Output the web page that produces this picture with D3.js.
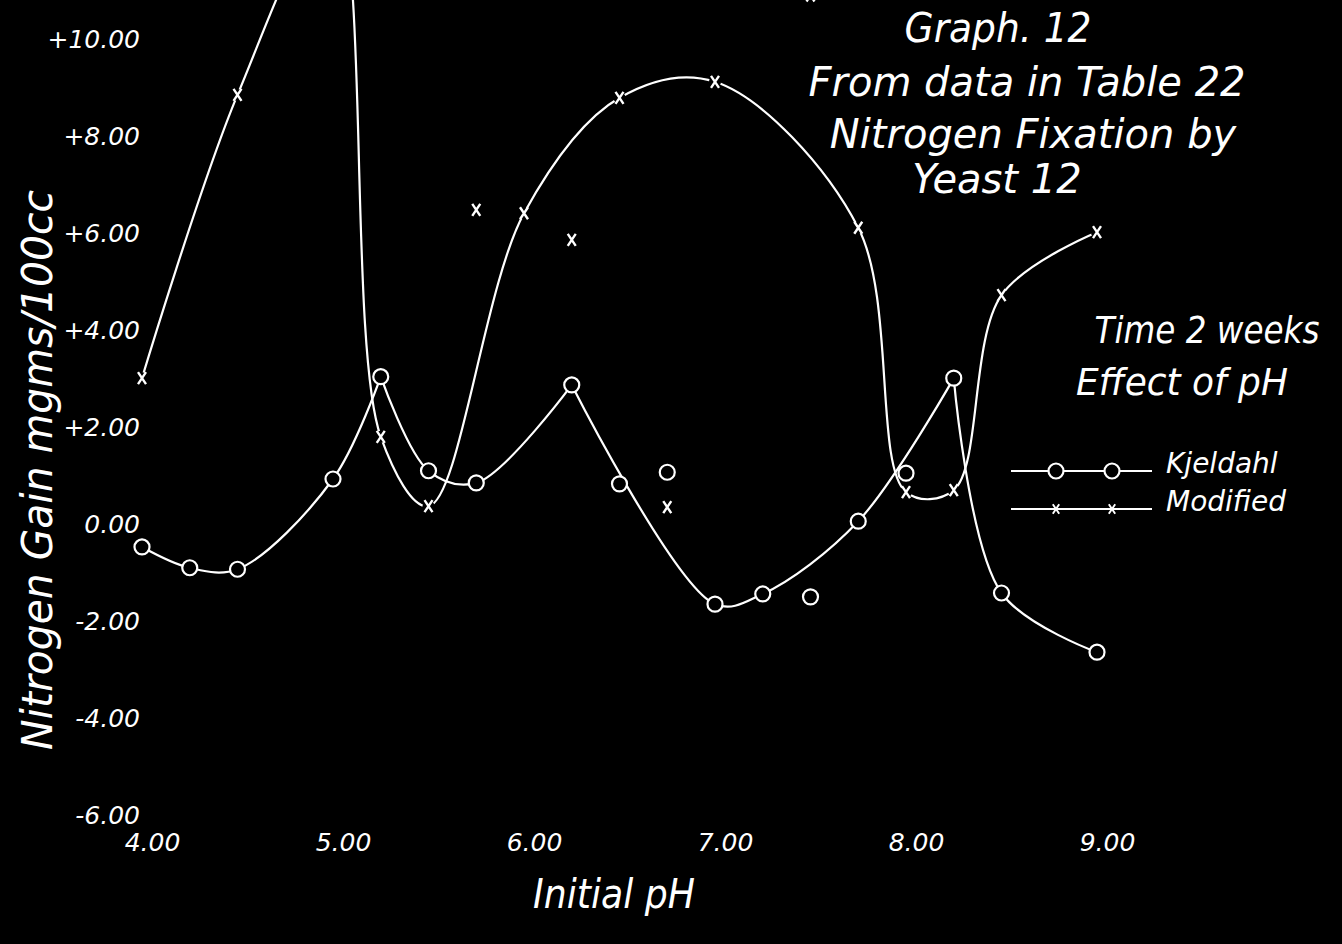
<!DOCTYPE html>
<html>
<head>
<meta charset="utf-8">
<script src="https://cdn.jsdelivr.net/npm/d3@7"></script>
<style>
  html, body { margin: 0; padding: 0; background: #000; }
  svg { display: block; }
  text { fill: #fff; font-family: "DejaVu Sans", sans-serif; font-style: italic; font-weight: 300; }
</style>
</head>
<body>
<div id="chart"></div>
<script>
// pH values and nitrogen gain (mgms/100cc)
const kjeldahlPh = [4.0, 4.25, 4.5, 5.0, 5.25, 5.5, 5.75, 6.25, 6.5, 6.75, 7.0, 7.25, 7.5, 7.75, 8.0, 8.25, 8.5, 9.0];
const kjeldahlGain = [-0.39, -0.82, -0.85, 1.01, 3.12, 1.18, 0.93, 2.95, 0.91, 1.15, -1.57, -1.36, -1.42, 0.14, 1.13, 3.09, -1.34, -2.56];
// the hand drawn curve runs through these points, broken at the sharp peaks
const kjeldahlCurve = [[4.0, 4.25, 4.5, 5.0, 5.25], [5.25, 5.5, 5.75, 6.25], [6.25, 7.0, 7.25, 7.75, 8.25], [8.25, 8.5, 9.0]];

const modifiedPh = [4.0, 4.5, 5.0, 5.25, 5.5, 5.75, 6.0, 6.25, 6.5, 6.75, 7.0, 7.5, 7.75, 8.0, 8.25, 8.5, 9.0];
const modifiedGain = [3.09, 8.93, 12.8, 1.88, 0.45, 6.56, 6.49, 5.94, 8.87, 0.43, 9.20, 10.98, 6.19, 0.74, 0.78, 4.80, 6.10];
const modifiedCurve = [[4.0, 4.5, 5.0, 5.25, 5.5, 6.0, 6.5, 7.0, 7.75, 8.0, 8.25, 8.5, 9.0]];

const xTicks = [4, 5, 6, 7, 8, 9];
const xTickLabels = ["4.00", "5.00", "6.00", "7.00", "8.00", "9.00"];
const yTicks = [10, 8, 6, 4, 2, 0, -2, -4, -6];
const yTickLabels = ["+10.00", "+8.00", "+6.00", "+4.00", "+2.00", "0.00", "-2.00", "-4.00", "-6.00"];

const titleLines = ["Graph. 12", "From data in Table 22", "Nitrogen Fixation by", "Yeast 12"];
const noteLines = ["Time 2 weeks", "Effect of pH"];
const seriesNames = ["Kjeldahl", "Modified"];

const width = 1342, height = 944;

const x = d3.scaleLinear().domain([4, 9]).range([142, 1097]);
const y = d3.scaleLinear().domain([-6, 10]).range([819, 43]);

const svg = d3.select("#chart").append("svg")
    .attr("width", width)
    .attr("height", height)
    .style("background", "#000");

// hand lettering is tall and narrow: squeeze each text to the width it has on the sheet
function lettering(sel, cx, baseline, targetWidth, anchor) {
    const w = sel.node().getComputedTextLength();
    const k = Math.min(1, targetWidth / w);
    sel.attr("text-anchor", anchor || "middle")
        .attr("transform", `translate(${cx},${baseline}) scale(${k},1)`);
}

// tick labels only, the sheet has no axis lines
const yAxis = svg.append("g")
    .attr("transform", "translate(140,-4)")
    .call(d3.axisLeft(y).tickValues(yTicks).tickSize(0).tickPadding(0)
        .tickFormat((d, i) => yTickLabels[i]));
yAxis.select(".domain").remove();
yAxis.selectAll("text").attr("font-size", 25).attr("fill", "#fff")
    .style("font-family", "DejaVu Sans").style("font-style", "italic");

const xAxis = svg.append("g")
    .attr("transform", "translate(10,842)")
    .call(d3.axisBottom(x).tickValues(xTicks).tickSize(0)
        .tickFormat((d, i) => xTickLabels[i]));
xAxis.select(".domain").remove();
xAxis.selectAll("text").attr("font-size", 25).attr("fill", "#fff")
    .attr("y", 0).attr("dy", "0.35em")
    .style("font-family", "DejaVu Sans").style("font-style", "italic");

// axis titles
svg.append("text")
    .attr("font-size", 40)
    .text("Initial pH")
    .call(lettering, 614, 908, 162);

svg.append("text")
    .attr("font-size", 42)
    .text("Nitrogen Gain mgms/100cc")
    .attr("text-anchor", "middle")
    .attr("textLength", 560).attr("lengthAdjust", "spacingAndGlyphs")
    .attr("transform", "translate(52,470) rotate(-90)");

// title block
const titlePos = [[998, 42, 187], [1027, 96, 441], [1033, 148, 457], [997, 193, 181]];
svg.selectAll(".title").data(titleLines).enter().append("text")
    .attr("class", "title")
    .attr("font-size", 40)
    .text(d => d)
    .each(function (d, i) {
        d3.select(this).call(lettering, titlePos[i][0], titlePos[i][1], titlePos[i][2]);
    });

const notePos = [[1207, 343, 225], [1182, 395, 212]];
svg.selectAll(".note").data(noteLines).enter().append("text")
    .attr("class", "note")
    .attr("font-size", 38)
    .text(d => d)
    .each(function (d, i) {
        d3.select(this).call(lettering, notePos[i][0], notePos[i][1], notePos[i][2]);
    });

const line = d3.line()
    .x(d => x(d[0]))
    .y(d => y(d[1]))
    .curve(d3.curveCatmullRom.alpha(0.5));

function curvePoints(phs, allPh, allGain) {
    return phs.map(p => [p, allGain[allPh.indexOf(p)]]);
}

const plot = svg.append("g");

plot.selectAll(".kjeldahl-line")
    .data(kjeldahlCurve.map(seg => curvePoints(seg, kjeldahlPh, kjeldahlGain)))
    .enter().append("path")
    .attr("class", "kjeldahl-line")
    .attr("d", line)
    .attr("fill", "none")
    .attr("stroke", "#fff")
    .attr("stroke-width", 2.2);

plot.selectAll(".modified-line")
    .data(modifiedCurve.map(seg => curvePoints(seg, modifiedPh, modifiedGain)))
    .enter().append("path")
    .attr("class", "modified-line")
    .attr("d", line)
    .attr("fill", "none")
    .attr("stroke", "#fff")
    .attr("stroke-width", 2.2);

const crossPath = "M-4,-6L4,6M4,-6L-4,6";

const modData = modifiedPh.map((p, i) => [p, modifiedGain[i]]);
const modMarks = plot.selectAll(".mod-mark").data(modData).enter().append("g")
    .attr("class", "mod-mark")
    .attr("transform", d => `translate(${x(d[0])},${y(d[1])})`);
modMarks.append("circle").attr("r", 6).attr("fill", "#000");
modMarks.append("path").attr("d", crossPath)
    .attr("stroke", "#fff").attr("stroke-width", 2.4).attr("fill", "none");

const kjData = kjeldahlPh.map((p, i) => [p, kjeldahlGain[i]]);
plot.selectAll(".kj-mark").data(kjData).enter().append("circle")
    .attr("class", "kj-mark")
    .attr("cx", d => x(d[0]))
    .attr("cy", d => y(d[1]))
    .attr("r", 7.5)
    .attr("fill", "#000")
    .attr("stroke", "#fff")
    .attr("stroke-width", 2.2);

// legend
const legend = svg.append("g").attr("transform", "translate(1011,0)");
const legendRows = [471, 509];
legend.selectAll(".leg-line").data(seriesNames).enter().append("line")
    .attr("x1", 0).attr("x2", 141)
    .attr("y1", (d, i) => legendRows[i]).attr("y2", (d, i) => legendRows[i])
    .attr("stroke", "#fff").attr("stroke-width", 2.2);
[45, 101].forEach(cx => {
    legend.append("circle").attr("cx", cx).attr("cy", legendRows[0]).attr("r", 7.5)
        .attr("fill", "#000").attr("stroke", "#fff").attr("stroke-width", 2.2);
    legend.append("path").attr("transform", `translate(${cx},${legendRows[1]}) scale(0.8)`)
        .attr("d", crossPath).attr("stroke", "#fff").attr("stroke-width", 2.4);
});
legend.selectAll(".leg-text").data(seriesNames).enter().append("text")
    .attr("font-size", 28)
    .text(d => d)
    .each(function (d, i) {
        d3.select(this).call(lettering, 155, legendRows[i] + 2, 124, "start");
    });
</script>
</body>
</html>
